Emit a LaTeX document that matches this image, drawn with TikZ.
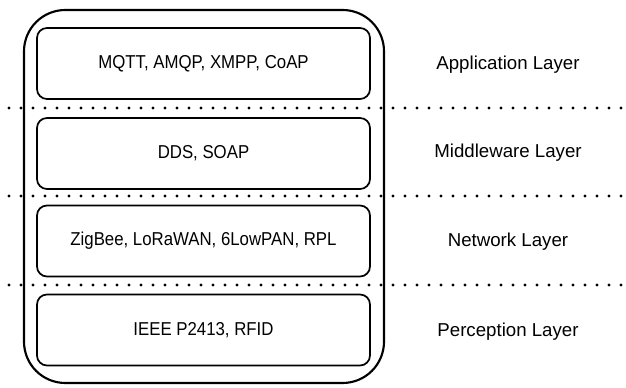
\documentclass[tikz,border=0pt]{standalone}
\usepackage{fontspec}
\usepackage{graphicx}
\setmainfont{Liberation Sans}
\usetikzlibrary{positioning}
\newcommand{\narrowtext}[1]{\scalebox{0.9}[1]{#1}}
\tikzset{protobox/.style = {draw, line width=1.3pt, rounded corners=7.5pt, minimum width=249.75pt, minimum height=53.25pt, font=\fontsize{14pt}{16pt}\selectfont}}
\tikzset{layername/.style = {font=\fontsize{14pt}{16pt}\selectfont}}
\tikzset{sepline/.style = {line width=2.3pt, line cap=round, dash pattern=on 0pt off 9pt}}

\begin{document}
\begin{tikzpicture}[x=0.75pt, y=0.75pt]
\useasboundingbox (0,0) rectangle (626,388);
\draw [line width=1.6pt, rounded corners=31pt] (24,5) rectangle (384,378);
\node [protobox] (app) at (203.5,324.5) {\narrowtext{MQTT, AMQP, XMPP, CoAP}};
\node [protobox] (mid) at (203.5,234.5) {\narrowtext{DDS, SOAP}};
\node [protobox] (net) at (203.5,147) {\narrowtext{ZigBee, LoRaWAN, 6LowPAN, RPL}};
\node [protobox] (per) at (203.5,58) {\narrowtext{IEEE P2413, RFID}};
\node [layername] (applayer) at (508,323) {Application Layer};
\node [layername] (midlayer) at (508,235) {Middleware Layer};
\node [layername] (netlayer) at (508,146) {Network Layer};
\node [layername] (perlayer) at (508,56) {Perception Layer};
\coordinate (sepa) at (9,280);
\coordinate (sepb) at (9,192);
\coordinate (sepc) at (9,103);
\draw [sepline] (sepa) -- ++(620,0);
\draw [sepline] (sepb) -- ++(620,0);
\draw [sepline] (sepc) -- ++(620,0);
\end{tikzpicture}
\end{document}
